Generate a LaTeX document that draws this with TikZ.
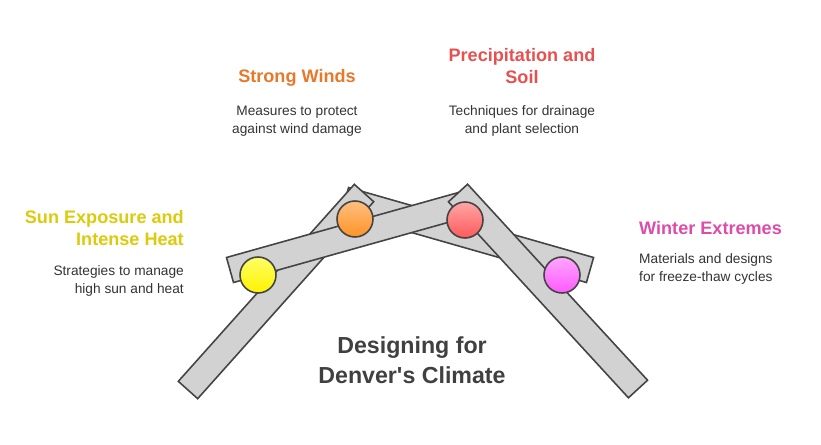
\documentclass[tikz,border=0pt]{standalone}
\usepackage{fontspec}
\setmainfont{Liberation Sans}
\usetikzlibrary{positioning, calc}

\definecolor{barfill}{HTML}{D2D2D2}
\definecolor{edge}{HTML}{444444}
\definecolor{sunc}{HTML}{DCCB0A}
\definecolor{windc}{HTML}{E8782A}
\definecolor{rainc}{HTML}{E85050}
\definecolor{winterc}{HTML}{DD4CAA}

\tikzset{
  head/.style={font=\bfseries\fontsize{10.3}{12}\selectfont, align=center},
  desc/.style={font=\fontsize{7.8}{10.4}\selectfont, text=black!80, align=center},
  dot/.style={circle, draw=edge, line width=0.9pt, minimum size=0.72cm, inner sep=0pt}
}

% rotated bar between two axis points
\newcommand{\climbar}[2]{%
  \draw[edge, fill=barfill, line width=0.9pt]
    ($(#1)!0.26cm!90:(#2)$) -- ($(#2)!0.26cm!-90:(#1)$) --
    ($(#2)!0.26cm!90:(#1)$) -- ($(#1)!0.26cm!-90:(#2)$) -- cycle;}

\begin{document}
\begin{tikzpicture}[x=0.02cm, y=-0.02cm]
  \useasboundingbox (0,0) rectangle (821,444);

  \coordinate (l1) at (188,390); \coordinate (l2) at (364,193);
  \coordinate (r1) at (458,193); \coordinate (r2) at (638,389);
  \coordinate (a1) at (230,270); \coordinate (a2) at (462,205);
  \coordinate (b1) at (345,200); \coordinate (b2) at (590,270);

  \climbar{b1}{b2}
  \climbar{l1}{l2}
  \climbar{a1}{a2}
  \climbar{r1}{r2}

  \node[dot, top color=yellow!60, bottom color=yellow!90!orange] (sun) at (258,275) {};
  \node[dot, top color=orange!50, bottom color=orange!85] (wind) at (355,219) {};
  \node[dot, top color=red!35, bottom color=red!65] (rain) at (465,220) {};
  \node[dot, top color=magenta!35, bottom color=magenta!65] (winter) at (562,275) {};

  \node[head, text=windc] (windh) at (297,78) {Strong Winds};
  \node[desc] (windd) at (297,121) {Measures to protect\\against wind damage};
  \node[head, text=rainc] (rainh) at (522,66) {Precipitation and\\Soil};
  \node[desc] (raind) at (522,121) {Techniques for drainage\\and plant selection};
  \node[head, text=sunc, align=right, anchor=east] (sunh) at (190,228) {Sun Exposure and\\Intense Heat};
  \node[desc, align=right, anchor=east] (sund) at (190,281) {Strategies to manage\\high sun and heat};
  \node[head, text=winterc, anchor=west] (winterh) at (633,228) {Winter Extremes};
  \node[desc, align=left, anchor=west] (winterd) at (633,269) {Materials and designs\\for freeze-thaw cycles};

  \node[font=\bfseries\fontsize{13.2}{17}\selectfont, text=black!75, align=center] (title) at (412,360) {Designing for\\Denver\textquotesingle s Climate};
\end{tikzpicture}
\end{document}
